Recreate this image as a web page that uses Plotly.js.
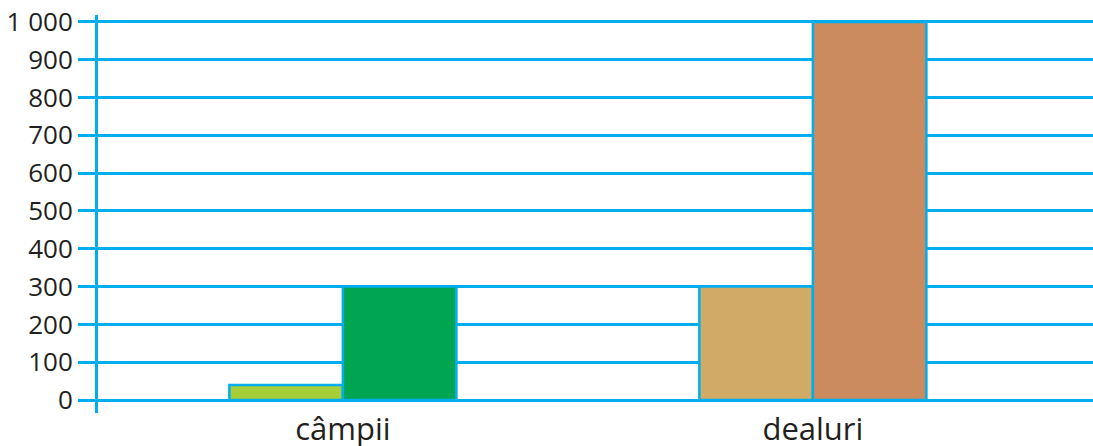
<!DOCTYPE html>
<html>
<head>
<meta charset="utf-8">
<script src="https://cdn.plot.ly/plotly-3.0.1.min.js"></script>
<style>html,body{margin:0;padding:0;background:#fff;}#chart{width:1093px;height:446px;}</style>
</head>
<body>
<div id="chart"></div>
<script>
const categories = ["câmpii", "dealuri"];
const series1 = [40, 300];
const series2 = [300, 1000];
const colors1 = ["#a6ce39", "#d1aa66"];
const colors2 = ["#00a551", "#cb8b5e"];
const yTicks = [0, 100, 200, 300, 400, 500, 600, 700, 800, 900, 1000];

const cyan = "#00aeef";
const traces = [
  {type: "bar", x: categories, y: series1, marker: {color: colors1, line: {color: cyan, width: 2.5}}, hoverinfo: "none"},
  {type: "bar", x: categories, y: series2, marker: {color: colors2, line: {color: cyan, width: 2.5}}, hoverinfo: "none"}
];
const layout = {
  width: 1093, height: 446,
  margin: {l: 98, r: 0, t: 15, b: 33},
  paper_bgcolor: "#fff", plot_bgcolor: "#fff",
  showlegend: false,
  barmode: "group",
  bargap: 0.517, bargroupgap: 0,
  separators: ", ",
  font: {family: "Open Sans, sans-serif", color: "#231f20"},
  xaxis: {
    type: "category", range: [-0.521, 1.596],
    showgrid: false, zeroline: false, showline: false, ticks: "",
    ticklabelstandoff: -5,
    tickfont: {size: 31, color: "#231f20"}, fixedrange: true
  },
  yaxis: {
    range: [-34.4, 1018.5], tickvals: yTicks, separatethousands: true,
    showgrid: true, gridcolor: cyan, gridwidth: 3, zeroline: false,
    showline: true, linecolor: cyan, linewidth: 3,
    ticks: "outside", ticklen: 17, tickwidth: 3, tickcolor: cyan,
    tickfont: {size: 26, color: "#231f20"}, fixedrange: true
  }
};
Plotly.newPlot("chart", traces, layout, {displayModeBar: false, staticPlot: true});
</script>
</body>
</html>
